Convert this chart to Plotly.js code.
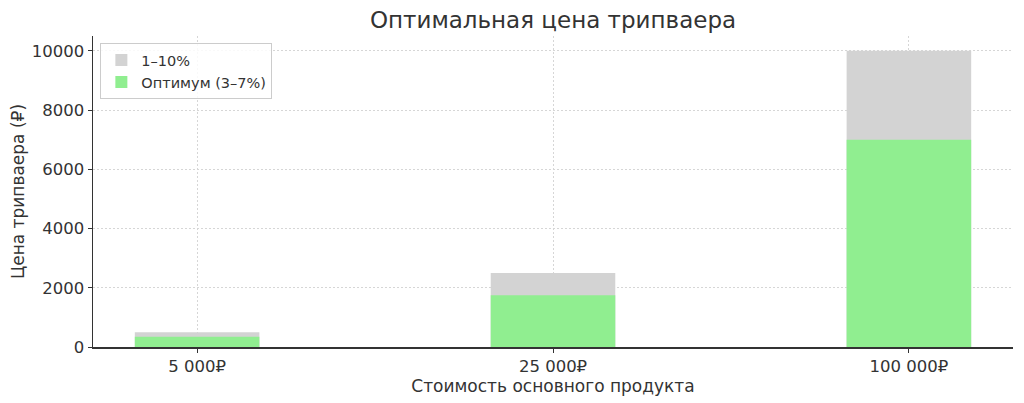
<!DOCTYPE html>
<html>
<head>
<meta charset="utf-8">
<script src="https://cdn.plot.ly/plotly-3.0.1.min.js"></script>
<style>html,body{margin:0;padding:0;background:#fff;}#chart{width:1024px;height:403px;}</style>
</head>
<body>
<div id="chart"></div>
<script>
const categories = ["5 000₽", "25 000₽", "100 000₽"];
const rangeMax = [500, 2500, 10000];      // 1–10%
const optimumMax = [350, 1750, 7000];     // Оптимум (3–7%)
const seriesNames = ["1–10%", "Оптимум (3–7%)"];
const yTicks = [0, 2000, 4000, 6000, 8000, 10000];

const font = "DejaVu Sans, sans-serif";
const traces = [
  {type: "bar", x: categories, y: rangeMax, name: seriesNames[0], width: 0.35,
   marker: {color: "#d3d3d3"}, hoverinfo: "x+y"},
  {type: "bar", x: categories, y: optimumMax, name: seriesNames[1], width: 0.35,
   marker: {color: "#90ee90"}, hoverinfo: "x+y"}
];
const layout = {
  width: 1024, height: 403,
  margin: {l: 93, r: 11, t: 36, b: 56},
  paper_bgcolor: "#fff", plot_bgcolor: "#fff",
  barmode: "overlay",
  font: {family: font, color: "#333", size: 16},
  title: {text: "Оптимальная цена трипваера", font: {family: font, size: 23, color: "#333"},
          x: 0.5, xref: "paper", xanchor: "center", y: 0.95, yanchor: "middle", yref: "container"},
  xaxis: {
    type: "category", range: [-0.2925, 2.2925],
    showline: true, linecolor: "#333", linewidth: 1.5,
    ticks: "outside", ticklen: 4, tickcolor: "#333",
    showgrid: true, gridcolor: "#d6d6d6", griddash: "2px,2px", gridwidth: 1,
    tickfont: {size: 16.5, color: "#333"},
    title: {text: "Стоимость основного продукта", font: {size: 17, color: "#333"}, standoff: 3},
    zeroline: false, fixedrange: true
  },
  yaxis: {
    range: [0, 10500], tickvals: yTicks, tickformat: "d",
    showline: true, linecolor: "#333", linewidth: 1.5,
    ticks: "outside", ticklen: 4, tickcolor: "#333",
    showgrid: true, gridcolor: "#d6d6d6", griddash: "2px,2px", gridwidth: 1,
    tickfont: {size: 16.5, color: "#333"},
    title: {text: "Цена трипваера (₽)", font: {size: 17, color: "#333"}, standoff: 3},
    zeroline: false, fixedrange: true
  },
  legend: {x: 0.008, y: 0.977, xanchor: "left", yanchor: "top",
           bgcolor: "rgba(255,255,255,0.85)", bordercolor: "#cccccc", borderwidth: 1,
           font: {size: 14.5, color: "#333"}, tracegroupgap: 2},
  showlegend: true
};
Plotly.newPlot("chart", traces, layout, {displayModeBar: false, staticPlot: true});
</script>
</body>
</html>
